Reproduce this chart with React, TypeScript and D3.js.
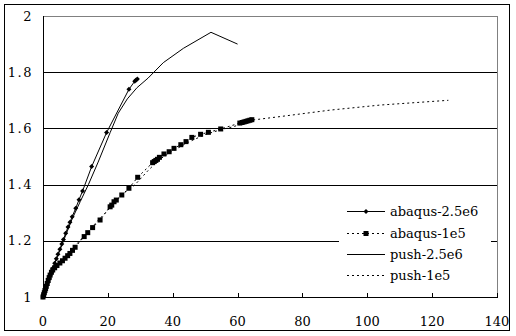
import React from "react";
import * as d3 from "d3";

const xTicks = [0, 20, 40, 60, 80, 100, 120, 140];
const yTicks = [1, 1.2, 1.4, 1.6, 1.8, 2];
const yTickLabels = ["1", "1.2", "1.4", "1.6", "1.8", "2"];

const seriesNames = ["abaqus-2.5e6", "abaqus-1e5", "push-2.5e6", "push-1e5"];

const abaqus25X = [0, 0.2, 0.4, 0.6, 0.9, 1.2, 1.5, 1.9, 2.3, 2.7, 3.1, 3.6, 4.1, 4.6, 5.2, 5.8, 6.3, 7.0, 7.7, 8.3, 9.0, 10.1, 11.1, 12.2, 15.0, 19.6, 26.5, 28.3, 28.7, 29.1];
const abaqus25Y = [1, 1.008, 1.015, 1.022, 1.032, 1.042, 1.052, 1.065, 1.078, 1.09, 1.103, 1.12, 1.136, 1.152, 1.17, 1.189, 1.205, 1.227, 1.249, 1.266, 1.286, 1.316, 1.346, 1.377, 1.464, 1.585, 1.739, 1.768, 1.772, 1.776];

const abaqus1X = [0, 0.2, 0.4, 0.6, 0.8, 1.0, 1.3, 1.6, 1.9, 2.2, 2.6, 3.0, 3.6, 4.3, 5.2, 6.0, 6.8, 7.6, 8.3, 9.1, 9.9, 12.7, 13.8, 15.3, 17.6, 20.7, 21.2, 21.9, 22.6, 24.3, 26.5, 29.2, 33.8, 34.3, 34.8, 35.3, 35.9, 37.3, 38.9, 40.4, 42.5, 44.1, 45.9, 48.6, 51.0, 54.8, 60.7, 61.4, 62.0, 62.6, 63.2, 63.8, 64.4];
const abaqus1Y = [1, 1.008, 1.015, 1.023, 1.03, 1.038, 1.048, 1.059, 1.069, 1.078, 1.088, 1.096, 1.104, 1.112, 1.121, 1.129, 1.138, 1.147, 1.155, 1.166, 1.177, 1.215, 1.229, 1.247, 1.274, 1.321, 1.327, 1.339, 1.345, 1.363, 1.387, 1.426, 1.478, 1.482, 1.486, 1.49, 1.497, 1.509, 1.517, 1.529, 1.542, 1.553, 1.568, 1.579, 1.586, 1.598, 1.619, 1.621, 1.623, 1.625, 1.627, 1.629, 1.631];

const push25X = [0, 1, 2, 3, 4.5, 6.5, 9, 11.5, 14, 17, 20.7, 23.2, 26, 29, 32.4, 37.1, 43.3, 51.8, 60];
const push25Y = [1, 1.035, 1.068, 1.1, 1.145, 1.205, 1.278, 1.34, 1.4, 1.48, 1.585, 1.654, 1.705, 1.745, 1.779, 1.834, 1.885, 1.942, 1.9];

const push1X = [0, 1, 2.6, 4, 6, 8, 10, 13, 16, 19, 22, 25, 28.4, 32.4, 36, 40, 45, 50, 55, 58.7, 64.8, 73.1, 88.5, 103.9, 125];
const push1Y = [1, 1.037, 1.09, 1.108, 1.133, 1.158, 1.183, 1.222, 1.26, 1.297, 1.335, 1.37, 1.4, 1.45, 1.49, 1.52, 1.552, 1.578, 1.596, 1.606, 1.63, 1.642, 1.665, 1.683, 1.7];

const W = 516;
const H = 336;
const L = 43, R = 497, T = 16, B = 297;
const FONT = "'DejaVu Serif', serif";

export default function App() {
  const x = d3.scaleLinear().domain([0, 140]).range([L, R]);
  const y = d3.scaleLinear().domain([1, 2]).range([B, T]);
  const line = d3
    .line<[number, number]>()
    .x((d) => x(d[0]))
    .y((d) => y(d[1]));
  const zip = (a: number[], b: number[]) => a.map((v, i) => [v, b[i]] as [number, number]);

  const a25 = zip(abaqus25X, abaqus25Y);
  const a1 = zip(abaqus1X, abaqus1Y);
  const p25 = zip(push25X, push25Y);
  const p1 = zip(push1X, push1Y);

  const diamond = (cx: number, cy: number, k: string) => (
    <path key={k} d={`M${cx},${cy - 2.5}L${cx + 2.5},${cy}L${cx},${cy + 2.5}L${cx - 2.5},${cy}Z`} fill="#000" />
  );
  const square = (cx: number, cy: number, k: string) => (
    <rect key={k} x={cx - 2.5} y={cy - 2.5} width={5} height={5} fill="#000" />
  );

  const legendY = [211, 233, 254, 275];
  const lx0 = 347, lx1 = 385;

  return (
    <svg width={W} height={H} style={{ position: "absolute", left: 0, top: 0 }}>
      <rect x={0} y={0} width={W} height={H} fill="#fff" />
      <rect x={4.5} y={4.5} width={505} height={326} fill="none" stroke="#000" strokeWidth={1} />
      {yTicks.slice(1, -1).map((t) => (
        <line key={t} x1={L} x2={R} y1={Math.round(y(t)) + 0.5} y2={Math.round(y(t)) + 0.5} stroke="#000" strokeWidth={1} />
      ))}
      <line x1={L} x2={R + 0.5} y1={T + 0.5} y2={T + 0.5} stroke="#808080" />
      <line x1={R + 0.5} x2={R + 0.5} y1={T} y2={B} stroke="#808080" />
      <line x1={L + 0.5} x2={L + 0.5} y1={T} y2={B + 1} stroke="#000" />
      <line x1={L} x2={R + 1} y1={B + 0.5} y2={B + 0.5} stroke="#000" />
      {xTicks.map((t) => (
        <line key={t} x1={Math.round(x(t)) + 0.5} x2={Math.round(x(t)) + 0.5} y1={B} y2={B - 4} stroke="#000" />
      ))}
      {xTicks.map((t) => (
        <text key={t} x={x(t)} y={321} textAnchor="middle" dominantBaseline="central" fontFamily={FONT} fontSize={13} fill="#000">
          {t}
        </text>
      ))}
      {yTicks.map((t, i) => (
        <text key={t} x={33} y={y(t)} textAnchor="end" dominantBaseline="central" fontFamily={FONT} fontSize={13} letterSpacing={1.5} fill="#000">
          {yTickLabels[i]}
        </text>
      ))}
      <path d={line(p1) || ""} fill="none" stroke="#000" strokeWidth={1} strokeDasharray="2,3" />
      <path d={line(p25) || ""} fill="none" stroke="#000" strokeWidth={1} />
      <path d={line(a1) || ""} fill="none" stroke="#000" strokeWidth={1} strokeDasharray="2,3" />
      {a1.map((d, i) => square(x(d[0]), y(d[1]), "s" + i))}
      <path d={line(a25) || ""} fill="none" stroke="#000" strokeWidth={1} />
      {a25.map((d, i) => diamond(x(d[0]), y(d[1]), "d" + i))}
      <rect x={339} y={200} width={152} height={88} fill="#fff" />
      {seriesNames.map((n, i) => {
        const ly = legendY[i] + 0.5;
        const dashed = i === 1 || i === 3;
        return (
          <g key={n}>
            <line x1={lx0} x2={lx1} y1={ly} y2={ly} stroke="#000" strokeDasharray={dashed ? "2,3" : undefined} />
            {i === 0 && diamond((lx0 + lx1) / 2, ly, "ld")}
            {i === 1 && square((lx0 + lx1) / 2, ly, "ls")}
            <text x={390} y={legendY[i]} dominantBaseline="central" fontFamily={FONT} fontSize={13} fill="#000">
              {n}
            </text>
          </g>
        );
      })}
    </svg>
  );
}
